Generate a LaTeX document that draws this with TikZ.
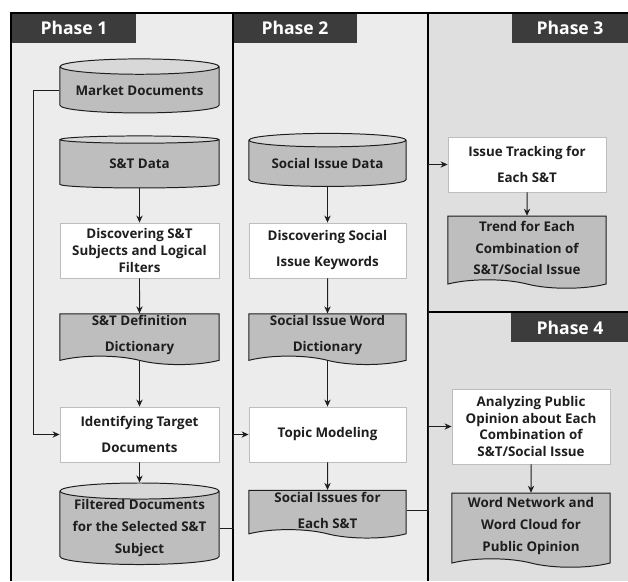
\documentclass[tikz,border=0pt]{standalone}
\usepackage{fontspec}
\setmainfont{Open Sans}
\usetikzlibrary{shapes.geometric,shapes.symbols,arrows.meta}

\definecolor{tabgray}{HTML}{3C3C3C}
\definecolor{panelA}{HTML}{ECECEC}
\definecolor{panelB}{HTML}{DFDFDF}
\definecolor{boxedge}{HTML}{BDBDBD}
\definecolor{darkfill}{HTML}{BEBEBE}
\definecolor{endfill}{HTML}{D8D8D8}
\definecolor{ink}{HTML}{1E1E1E}

\tikzset{
  txt/.style={font=\bfseries\fontsize{9.5}{12}\selectfont, text=ink, align=center},
  procbox/.style={txt, rectangle, fill=white, draw=boxedge, line width=0.6pt},
  dbcyl/.style={txt, cylinder, shape border rotate=90, aspect=0.12, draw=ink,
    line width=0.7pt, cylinder uses custom fill, cylinder body fill=darkfill,
    cylinder end fill=endfill, inner sep=0pt},
  docshape/.style={txt, tape, tape bend top=none, tape bend bottom=out and in,
    tape bend height=6pt, fill=darkfill, draw=ink, line width=0.7pt, inner sep=1pt},
  tab/.style={fill=tabgray, text=white, font=\bfseries\fontsize{12.5}{14}\selectfont},
  flow/.style={-{Stealth[length=5pt,width=4.5pt]}, line width=0.7pt, ink}
}

\begin{document}
\begin{tikzpicture}[x=0.025cm, y=-0.025cm]

  \useasboundingbox (0,0) rectangle (628,581);

  % panels
  \fill[panelA] (11,13) rectangle (428,581);
  \fill[panelB] (428,13) rectangle (628,581);
  \fill[tab] (11,13) rectangle (136,43);
  \fill[tab] (233,13) rectangle (357,43);
  \fill[tab] (512,13) rectangle (628,43);
  \fill[tab] (511,313) rectangle (628,342);
  \node[tab, fill=none] (t1) at (74,28) {Phase 1};
  \node[tab, fill=none] (t2) at (295,28) {Phase 2};
  \node[tab, fill=none] (t3) at (570,28) {Phase 3};
  \node[tab, fill=none] (t4) at (570,327.5) {Phase 4};

  \draw[line width=1pt] (11,581) -- (11,13) -- (628,13);
  \draw[line width=1pt] (233,13) -- (233,581);
  \draw[line width=1pt] (428,13) -- (428,581);
  \draw[line width=1pt] (428,312) -- (628,312);

  \coordinate (b12) at (233,0);
  \coordinate (b23) at (428,0);

  % phase 1
  \node[dbcyl, minimum width=3.975cm, minimum height=1.35cm] (mkt) at (139.5,90) {Market Documents};
  \node[dbcyl, minimum width=3.975cm, minimum height=1.3cm] (stdata) at (139.5,164) {S\&T Data};
  \node[procbox, minimum width=3.975cm, minimum height=1.375cm] (discst) at (139.5,250.5)
    {Discovering S\&T\\Subjects and Logical\\Filters};
  \node[docshape, minimum width=3.975cm, minimum height=1.1cm] (stdef) at (139.5,335)
    {S\&T Definition\\[6.5pt]Dictionary};
  \node[procbox, minimum width=3.975cm, minimum height=1.375cm] (ident) at (139.5,434.5)
    {Identifying Target\\[6.5pt]Documents};
  \node[dbcyl, minimum width=3.975cm, minimum height=2cm] (filt) at (139.5,528)
    {Filtered Documents\\[3.5pt]for the Selected S\&T\\[3.5pt]Subject};

  % phase 2
  \node[dbcyl, minimum width=3.925cm, minimum height=1.325cm] (socdata) at (327.5,163.5) {Social Issue Data};
  \node[procbox, minimum width=3.925cm, minimum height=1.375cm] (discsoc) at (327.5,250.5)
    {Discovering Social\\[6.5pt]Issue Keywords};
  \node[docshape, minimum width=3.925cm, minimum height=1.1cm] (socdict) at (327.5,335)
    {Social Issue Word\\[6.5pt]Dictionary};
  \node[procbox, minimum width=3.925cm, minimum height=1.375cm] (topic) at (327.5,434.5) {Topic Modeling};
  \node[docshape, minimum width=3.925cm, minimum height=1.05cm] (socst) at (327.5,510)
    {Social Issues for\\[6.5pt]Each S\&T};

  % phase 3 and 4
  \node[procbox, minimum width=3.95cm, minimum height=1.375cm] (track) at (527,164.5)
    {Issue Tracking for\\[6.5pt]Each S\&T};
  \node[docshape, minimum width=3.95cm, minimum height=1.8cm] (trend) at (527,248)
    {Trend for Each\\[3.6pt]Combination of\\[3.6pt]S\&T/Social Issue};
  \node[procbox, minimum width=3.95cm, minimum height=1.875cm] (anal) at (531,426.5)
    {Analyzing Public\\Opinion about Each\\Combination of\\S\&T/Social Issue};
  \node[docshape, minimum width=3.95cm, minimum height=1.85cm] (wnet) at (531,526)
    {Word Network and\\[3.6pt]Word Cloud for\\[3.6pt]Public Opinion};

  % connectors
  \draw[flow] (stdata) -- (discst);
  \draw[flow] (discst) -- (stdef);
  \draw[flow] (stdef) -- (ident);
  \draw[flow] (ident) -- (filt);
  \draw[flow] (mkt.west) -- ++(-26,0) |- (ident.west);
  \draw[flow] (filt.east) -| (b12 |- topic.west) -- (topic.west);

  \draw[flow] (socdata) -- (discsoc);
  \draw[flow] (discsoc) -- (socdict);
  \draw[flow] (socdict) -- (topic);
  \draw[flow] (topic) -- (socst);
  \draw[flow] (socst.east) -| (b23 |- track.west) -- (track.west);
  \draw[flow] (b23 |- anal.west) -- (anal.west);

  \draw[flow] (track) -- (trend);
  \draw[flow] (anal) -- (wnet);

\end{tikzpicture}
\end{document}
